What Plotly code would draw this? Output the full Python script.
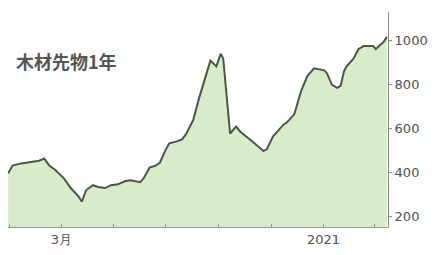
import plotly.graph_objects as go

dates = [
    "2019-12-30", "2020-01-04", "2020-01-14", "2020-01-26", "2020-02-04", "2020-02-10",
    "2020-02-16", "2020-02-23", "2020-02-27", "2020-03-04", "2020-03-12", "2020-03-21",
    "2020-03-25", "2020-03-30", "2020-04-07", "2020-04-13", "2020-04-21", "2020-04-28",
    "2020-05-06", "2020-05-14", "2020-05-21", "2020-06-01", "2020-06-05", "2020-06-12",
    "2020-06-19", "2020-06-24", "2020-06-30", "2020-07-05", "2020-07-14", "2020-07-20",
    "2020-07-25", "2020-08-02", "2020-08-09", "2020-08-17", "2020-08-22", "2020-08-29",
    "2020-09-03", "2020-09-06", "2020-09-11", "2020-09-14", "2020-09-21", "2020-09-26",
    "2020-10-10", "2020-10-23", "2020-10-27", "2020-11-03", "2020-11-15", "2020-11-20",
    "2020-11-28", "2020-12-06", "2020-12-13", "2020-12-21", "2021-01-02", "2021-01-05",
    "2021-01-11", "2021-01-17", "2021-01-21", "2021-01-25", "2021-01-28", "2021-02-05",
    "2021-02-11", "2021-02-17", "2021-02-28", "2021-03-03", "2021-03-12", "2021-03-16",
]
prices = [
    395, 430, 440, 448, 452, 462,
    430, 410, 395, 372, 328, 290,
    266, 319, 341, 333, 328, 341,
    345, 359, 363, 355, 372, 421,
    430, 443, 496, 531, 540, 549,
    576, 638, 739, 841, 907, 881,
    938, 916, 708, 576, 607, 584,
    540, 496, 505, 562, 615, 629,
    664, 770, 836, 872, 863, 850,
    797, 783, 792, 859, 881, 916,
    960, 973, 973, 960, 991, 1015,
]

x_tick_vals = ["2020-01-01", "2020-03-01", "2020-05-01", "2020-07-01", "2020-09-01",
               "2020-11-01", "2021-01-01", "2021-03-01"]
x_tick_text = ["", "3月", "", "", "", "", "2021", ""]
y_tick_vals = [200, 400, 600, 800, 1000]
title_text = "<b>木材先物1年</b>"

fig = go.Figure()
fig.add_trace(go.Scatter(
    x=dates, y=prices, mode="lines",
    line=dict(color="#4b5645", width=2),
    fill="tozeroy", fillcolor="#d9ecca",
    hoverinfo="skip",
))

fig.add_annotation(
    text=title_text, xref="paper", yref="paper", x=0.016, y=0.77,
    xanchor="left", yanchor="middle", showarrow=False,
    font=dict(family="Noto Sans CJK JP", size=18, color="#555555"),
)

fig.update_layout(
    width=436, height=255,
    margin=dict(l=8, r=41, t=12, b=22),
    paper_bgcolor="white", plot_bgcolor="white",
    showlegend=False,
    xaxis=dict(
        type="date",
        range=["2019-12-29 18:00", "2021-03-17 08:00"],
        tickvals=x_tick_vals, ticktext=x_tick_text,
        showgrid=False, zeroline=False,
        showline=True, linecolor="#9a9a9a", linewidth=1,
        ticks="inside", ticklen=3, tickcolor="#9a9a9a",
        tickfont=dict(family="DejaVu Sans", size=13, color="#505050"),
    ),
    yaxis=dict(
        side="right", range=[151, 1128],
        tickvals=y_tick_vals,
        showgrid=False, zeroline=False,
        showline=True, linecolor="#8a8a8a", linewidth=1,
        ticks="outside", ticklen=3, tickcolor="#8a8a8a",
        tickfont=dict(family="DejaVu Sans", size=13, color="#505050"),
    ),
)

fig.write_html("out.html", config={"displayModeBar": False},
               post_script="document.body.style.margin='0';")
